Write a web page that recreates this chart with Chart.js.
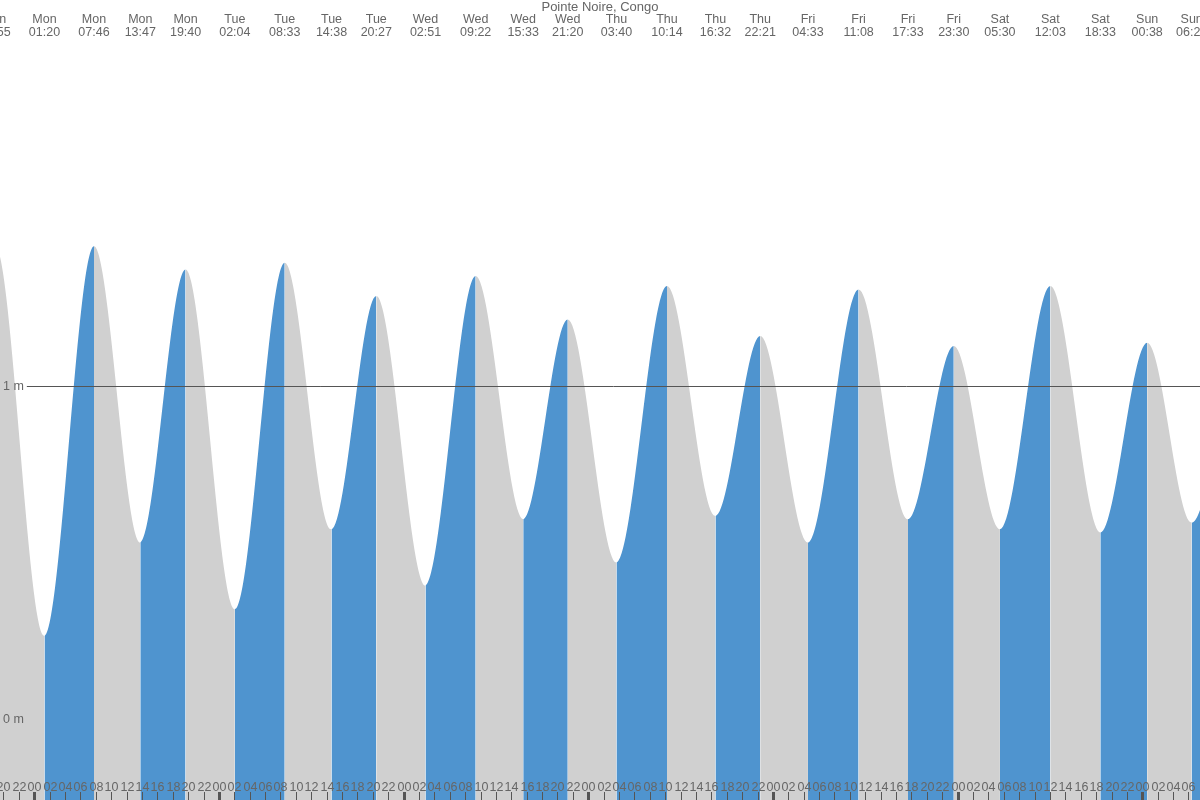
<!DOCTYPE html>
<html lang="en">
<head>
  <meta charset="UTF-8">
  <title>Pointe Noire, Congo - tides</title>
  <script src="https://cdn.jsdelivr.net/npm/chart.js"></script>
  <style>
    body {
      margin: 0;
      background: #fff;
    }
    canvas {
      display: block;
    }
  </style>
</head>
<body>
  <canvas id="tideChart" width="1200" height="800"></canvas>

  <script>
    // ---------------- Data: high / low water ---------------- //
    const tideDays = ['Sun', 'Sun', 'Mon', 'Mon', 'Mon', 'Mon', 'Tue', 'Tue', 'Tue', 'Tue',
      'Wed', 'Wed', 'Wed', 'Wed', 'Thu', 'Thu', 'Thu', 'Thu', 'Fri', 'Fri', 'Fri', 'Fri',
      'Sat', 'Sat', 'Sat', 'Sun', 'Sun', 'Sun'];
    const tideTimes = ['12:45', '18:55', '01:20', '07:46', '13:47', '19:40', '02:04', '08:33', '14:38', '20:27',
      '02:51', '09:22', '15:33', '21:20', '03:40', '10:14', '16:32', '22:21', '04:33', '11:08', '17:33', '23:30',
      '05:30', '12:03', '18:33', '00:38', '06:25', '12:45'];
    const tideHeights = [0.55, 1.42, 0.25, 1.42, 0.53, 1.35, 0.33, 1.37, 0.57, 1.27,
      0.40, 1.33, 0.60, 1.20, 0.47, 1.30, 0.61, 1.15, 0.53, 1.29, 0.60, 1.12,
      0.57, 1.30, 0.56, 1.13, 0.59, 1.30];

    const levelValues = [0, 1];          // metres labelled on the left
    const levelLines = [1];              // only this level gets a rule
    const chartTitle = 'Pointe Noire, Congo';

    // visible window in hours from Monday 00:00
    const hourMin = -4.45;
    const hourMax = 151.5;
    const metreMin = -0.243;
    const metreMax = 2.159;

    const risingColor = '#4f94cf';
    const fallingColor = '#d0d0d0';
    const textColor = '#666';
    const fontFamily = '"Liberation Sans", Arial, sans-serif';

    // ---------------- Convert day + clock time to hours ---------------- //
    const weekNames = ['Sun', 'Mon', 'Tue', 'Wed', 'Thu', 'Fri', 'Sat'];
    const tideHours = [];
    let prev = -Infinity;
    tideTimes.forEach((t, i) => {
      const [hh, mm] = t.split(':').map(Number);
      let h = (weekNames.indexOf(tideDays[i]) - 1) * 24 + hh + mm / 60;
      while (h < prev) h += 7 * 24;
      tideHours.push(h);
      prev = h;
    });
    const tidePoints = tideHours.map((h, i) => ({ x: h, y: tideHeights[i] }));

    // ---------------- Text, ticks and the 1 m rule ---------------- //
    const tideText = {
      id: 'tideText',
      afterDatasetsDraw(chart) {
        const { ctx, chartArea, scales: { x, y } } = chart;
        ctx.save();
        ctx.font = '12.5px ' + fontFamily;
        ctx.fillStyle = textColor;
        ctx.strokeStyle = '#555';

        // level labels on the left
        ctx.textAlign = 'left';
        ctx.textBaseline = 'middle';
        levelValues.forEach(v => {
          const py = Math.round(y.getPixelForValue(v));
          const label = v + ' m';
          ctx.fillText(label, chartArea.left + 3, py + 1);
          if (levelLines.includes(v)) {
            const startX = chartArea.left + 3 + ctx.measureText(label).width + 3;
            ctx.lineWidth = 1;
            ctx.beginPath();
            ctx.moveTo(startX, py + 0.5);
            ctx.lineTo(chartArea.right, py + 0.5);
            ctx.stroke();
          }
        });

        // hour ticks along the bottom, every 2 hours
        ctx.textAlign = 'center';
        ctx.textBaseline = 'alphabetic';
        for (let h = Math.ceil(x.min / 2) * 2; h <= x.max; h += 2) {
          const px = Math.round(x.getPixelForValue(h));
          const hourOfDay = ((h % 24) + 24) % 24;
          const midnight = hourOfDay === 0;
          ctx.fillStyle = '#555';
          if (midnight) {
            ctx.fillRect(px - 1, chartArea.bottom - 8, 3, 8);
          } else {
            ctx.fillRect(px, chartArea.bottom - 8, 1, 8);
          }
          ctx.fillStyle = textColor;
          ctx.fillText(String(hourOfDay).padStart(2, '0'), px + 0.5, chartArea.bottom - 9);
        }

        // high / low water labels along the top
        tideHours.forEach((h, i) => {
          const px = x.getPixelForValue(h);
          ctx.fillText(tideDays[i], px, chartArea.top + 23);
          ctx.fillText(tideTimes[i], px, chartArea.top + 36);
        });

        // title
        ctx.font = '13px ' + fontFamily;
        ctx.fillText(chartTitle, (chartArea.left + chartArea.right) / 2, chartArea.top + 11);
        ctx.restore();
      }
    };

    // ---------------- Chart ---------------- //
    const ctx = document.getElementById('tideChart').getContext('2d');
    const tideChart = new Chart(ctx, {
      type: 'line',
      data: {
        datasets: [{
          label: 'Tide height',
          data: tidePoints,
          fill: 'start',
          cubicInterpolationMode: 'monotone',
          backgroundColor: fallingColor,
          borderColor: 'rgba(0,0,0,0)',
          borderWidth: 0,
          pointRadius: 0,
          segment: {
            backgroundColor: c => c.p1.parsed.y > c.p0.parsed.y ? risingColor : fallingColor
          }
        }]
      },
      options: {
        responsive: false,
        animation: false,
        layout: { padding: 0 },
        scales: {
          x: { type: 'linear', min: hourMin, max: hourMax, display: false },
          y: { type: 'linear', min: metreMin, max: metreMax, display: false }
        },
        plugins: {
          legend: { display: false },
          tooltip: { enabled: false },
          title: { display: false }
        }
      },
      plugins: [tideText]
    });
  </script>
</body>
</html>
